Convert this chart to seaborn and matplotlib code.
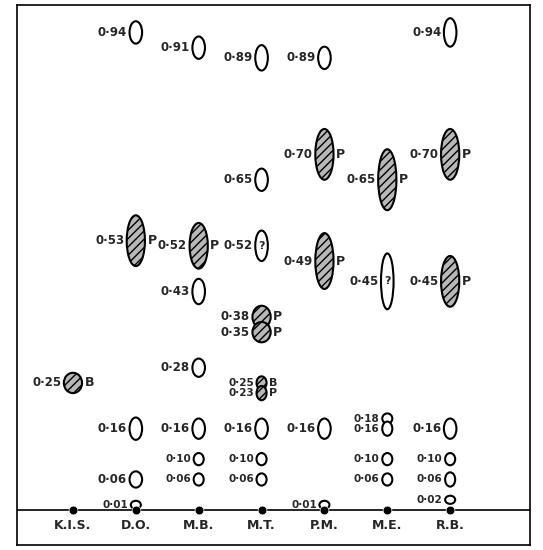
import matplotlib
matplotlib.use("Agg")
import matplotlib.pyplot as plt
from matplotlib.patches import Ellipse
import seaborn as sns
import pandas as pd

categories = ["K.I.S.", "D.O.", "M.B.", "M.T.", "P.M.", "M.E.", "R.B."]
spot_cat = [0,
            1, 1, 1, 1, 1,
            2, 2, 2, 2, 2, 2, 2,
            3, 3, 3, 3, 3, 3, 3, 3, 3, 3,
            4, 4, 4, 4, 4,
            5, 5, 5, 5, 5, 5,
            6, 6, 6, 6, 6, 6, 6]
spot_rf = [0.25,
           0.94, 0.53, 0.16, 0.06, 0.01,
           0.91, 0.52, 0.43, 0.28, 0.16, 0.10, 0.06,
           0.89, 0.65, 0.52, 0.38, 0.35, 0.25, 0.23, 0.16, 0.10, 0.06,
           0.89, 0.70, 0.49, 0.16, 0.01,
           0.65, 0.45, 0.18, 0.16, 0.10, 0.06,
           0.94, 0.70, 0.45, 0.16, 0.10, 0.06, 0.02]
spot_len = [0.040,
            0.044, 0.100, 0.044, 0.032, 0.016,
            0.044, 0.090, 0.050, 0.036, 0.040, 0.024, 0.024,
            0.050, 0.044, 0.060, 0.044, 0.040, 0.026, 0.028, 0.040, 0.024, 0.024,
            0.044, 0.100, 0.110, 0.040, 0.016,
            0.120, 0.110, 0.020, 0.028, 0.024, 0.024,
            0.056, 0.100, 0.100, 0.040, 0.024, 0.028, 0.016]
spot_tag = ["B",
            "", "P", "", "", "",
            "", "P", "", "", "", "", "",
            "", "", "?", "P", "P", "B", "P", "", "", "",
            "", "P", "P", "", "",
            "P", "?", "", "", "", "",
            "", "P", "P", "", "", "", ""]
spot_hatched = [1,
                0, 1, 0, 0, 0,
                0, 1, 0, 0, 0, 0, 0,
                0, 0, 0, 1, 1, 1, 1, 0, 0, 0,
                0, 1, 1, 0, 0,
                1, 0, 0, 0, 0, 0,
                0, 1, 1, 0, 0, 0, 0]

fig = plt.figure(figsize=(5.43, 5.50), dpi=100)
ax = fig.add_axes([17/543, 5/550, 513/543, 540/550])
sns.set_style("white")
ax.set_xlim(-0.89, 7.27)
ax.set_ylim(-0.069, 0.994)
for s in ax.spines.values():
    s.set_linewidth(1.2)
    s.set_color("black")
ax.set_xticks([]); ax.set_yticks([])

ax.axhline(0, color="black", lw=1.2)
base = pd.DataFrame({"x": range(len(categories)), "y": [0]*len(categories)})
sns.scatterplot(data=base, x="x", y="y", ax=ax, color="black", s=40, zorder=5, legend=False)
ax.set_xlabel(""); ax.set_ylabel("")
for i, c in enumerate(categories):
    ax.text(i, -0.018, c, ha="center", va="top", fontsize=9, fontweight="bold")

for c, rf, ln, tag, h in zip(spot_cat, spot_rf, spot_len, spot_tag, spot_hatched):
    w = 0.29 if h else 0.20
    if ln < 0.03:
        w = 0.16
    e = Ellipse((c, rf), w, ln, facecolor="#b8b8b8" if h else "white",
                edgecolor="black", lw=1.5, hatch="////" if h else None, zorder=4)
    ax.add_patch(e)
    small = ln < 0.03
    ax.text(c - w/2 - 0.04, rf, f"{rf:.2f}".replace(".", "·"), ha="right", va="center",
            fontsize=7.5 if small else 8.5, fontweight="bold")
    if tag == "?":
        ax.text(c, rf, "?", ha="center", va="center", fontsize=8, fontweight="bold", zorder=6)
    elif tag:
        ax.text(c + w/2 + 0.04, rf, tag, ha="left", va="center",
                fontsize=8 if small else 9, fontweight="bold")

fig.savefig("out.png", dpi=100)
